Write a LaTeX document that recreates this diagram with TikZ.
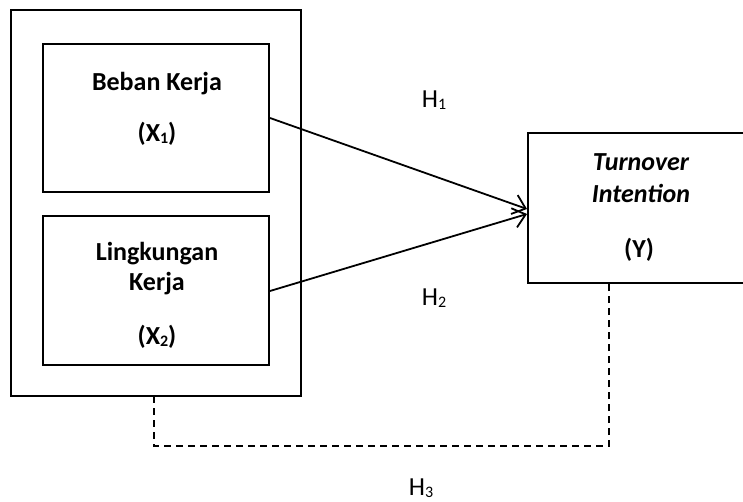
\documentclass[tikz,border=0pt]{standalone}
\usepackage{fontspec}
\setmainfont{Carlito}
\usetikzlibrary{arrows.meta}
\newcommand{\lowsub}[1]{\raisebox{-0.08em}{\fontsize{16}{16}\selectfont #1}}
\begin{document}
\begin{tikzpicture}[x=1pt,y=-1pt,
  box/.style={draw,line width=2pt,inner sep=0pt,anchor=north west},
  lbl/.style={font=\fontsize{26}{30}\selectfont\bfseries,inner sep=0pt,align=center},
  hyp/.style={font=\fontsize{26}{30}\selectfont,inner sep=0pt},
  conn/.style={line width=1.8pt,-{Straight Barb[length=12pt,width=20pt,line width=1.8pt]}},
  dashconn/.style={line width=1.4pt,dash pattern=on 7pt off 5pt}]
\useasboundingbox (0,0) rectangle (743,502);
\node[box,minimum width=290pt,minimum height=386pt] (outer) at (10,9) {};
\node[box,minimum width=226pt,minimum height=148pt] (x1) at (42,43) {};
\node[box,minimum width=226pt,minimum height=149pt] (x2) at (42,215) {};
\node[box,minimum width=230pt,minimum height=150pt] (y) at (527,132) {};
\node[lbl] (t1a) at (157,84) {Beban Kerja};
\node[lbl] (t1b) at (157,134) {(X\lowsub{1})};
\node[lbl] (t2a) at (157,254) {Lingkungan};
\node[lbl] (t2b) at (157,284) {Kerja};
\node[lbl] (t2c) at (157,337) {(X\lowsub{2})};
\node[lbl] (tya) at (641,162) {\itshape Turnover};
\node[lbl] (tyb) at (641,193) {\itshape Intention};
\node[lbl] (tyc) at (639,250) {(Y)};
\node[hyp] (h1) at (434,100) {H\lowsub{1}};
\node[hyp] (h2) at (434,298) {H\lowsub{2}};
\node[hyp] (h3) at (421,488) {H\lowsub{3}};
\coordinate (a1) at (x1.east |- 0,118);
\coordinate (a2) at (x2.east |- 0,291);
\coordinate (e1) at (y.west |- 0,209);
\coordinate (e2) at (y.west |- 0,214);
\draw[conn] (a1) -- (e1);
\draw[conn] (a2) -- (e2);
\coordinate (d1) at (154,396);
\coordinate (d2) at (609,283);
\draw[dashconn] (d1) -- (154,446) -- (609,446) -- (d2);
\end{tikzpicture}
\end{document}
